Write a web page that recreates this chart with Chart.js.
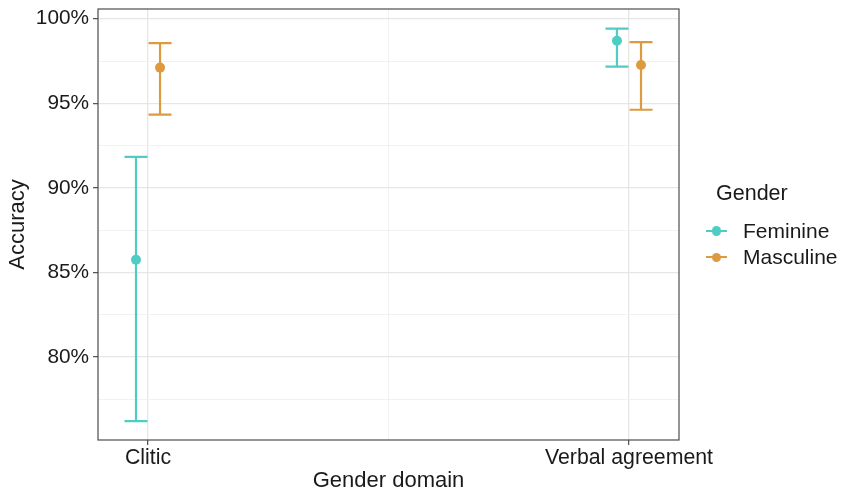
<!DOCTYPE html>
<html>
<head>
<meta charset="utf-8">
<script src="https://cdn.jsdelivr.net/npm/chart.js@4"></script>
<style>
  html, body { margin: 0; padding: 0; background: #fff; }
  #wrap { position: relative; width: 843px; height: 492px; font-family: "Liberation Sans", Arial, sans-serif; }
  #legend { position: absolute; left: 706px; top: 181px; color: #1a1a1a; font-size: 21px; }
  .legend-title { margin-left: 10px; line-height: 24px; height: 24px; margin-bottom: 12.5px; font-size: 21.5px; }
  .legend-item { display: flex; align-items: center; height: 26.5px; line-height: 24px; }
  .key { position: relative; width: 21px; height: 26px; margin-right: 16px; }
  .key::before { content: ''; position: absolute; left: 0; right: 0; top: 12px; height: 2px; background: var(--c); }
  .key::after { content: ''; position: absolute; left: 5.5px; top: 8.5px; width: 9.5px; height: 9.5px; border-radius: 50%; background: var(--c); }
</style>
</head>
<body>
<div id="wrap">
  <canvas id="chart" width="843" height="492"></canvas>
  <div id="legend"></div>
</div>
<script>
const categories = ['Clitic', 'Verbal agreement'];
const seriesNames = ['Feminine', 'Masculine'];
const seriesColors = ['#4ECDC4', '#DE9A3F'];

const feminineMean = [85.75, 98.70];
const feminineLow = [76.22, 97.17];
const feminineHigh = [91.84, 99.41];

const masculineMean = [97.11, 97.26];
const masculineLow = [94.33, 94.62];
const masculineHigh = [98.56, 98.62];

const yTicks = [80, 85, 90, 95, 100];
const yMinorTicks = [77.5, 82.5, 87.5, 92.5, 97.5];
const xMinorTicks = [1.5];

const DODGE = 0.025;
const CAP_HALF = 11.5;
const TEXT = '#1a1a1a';

Chart.defaults.font.family = '"Liberation Sans", Arial, sans-serif';

function toPoints(mean, low, high, shift) {
  return categories.map((c, i) => ({ x: i + 1 + shift, y: mean[i], low: low[i], high: high[i] }));
}

const isMinor = (v) => yMinorTicks.includes(v) || xMinorTicks.includes(v);

// panel border + error bars, drawn under the points
const panelAndErrorBars = {
  id: 'panelAndErrorBars',
  beforeDatasetsDraw(chart) {
    const { ctx, chartArea, scales: { x, y } } = chart;
    ctx.save();
    ctx.strokeStyle = '#4d4d4d';
    ctx.lineWidth = 1.2;
    ctx.strokeRect(chartArea.left, chartArea.top, chartArea.right - chartArea.left, chartArea.bottom - chartArea.top);
    chart.data.datasets.forEach((ds) => {
      ctx.strokeStyle = ds.borderColor;
      ctx.lineWidth = 2.2;
      ds.data.forEach((p) => {
        const px = x.getPixelForValue(p.x);
        const top = y.getPixelForValue(p.high);
        const bottom = y.getPixelForValue(p.low);
        ctx.beginPath();
        ctx.moveTo(px, top);
        ctx.lineTo(px, bottom);
        ctx.moveTo(px - CAP_HALF, top);
        ctx.lineTo(px + CAP_HALF, top);
        ctx.moveTo(px - CAP_HALF, bottom);
        ctx.lineTo(px + CAP_HALF, bottom);
        ctx.stroke();
      });
    });
    ctx.restore();
  },
};

const gridOptions = {
  color: (c) => (isMinor(c.tick.value) ? '#f1f1f1' : '#e6e6e6'),
  lineWidth: (c) => (isMinor(c.tick.value) ? 0.9 : 1.3),
  tickColor: (c) => (isMinor(c.tick.value) ? 'rgba(0,0,0,0)' : '#4d4d4d'),
  tickWidth: 1.2,
  tickLength: 5,
};

new Chart(document.getElementById('chart'), {
  type: 'scatter',
  data: {
    datasets: [
      {
        label: seriesNames[0],
        data: toPoints(feminineMean, feminineLow, feminineHigh, -DODGE),
        backgroundColor: seriesColors[0],
        borderColor: seriesColors[0],
        borderWidth: 0,
        pointRadius: 5,
        pointHoverRadius: 5,
      },
      {
        label: seriesNames[1],
        data: toPoints(masculineMean, masculineLow, masculineHigh, DODGE),
        backgroundColor: seriesColors[1],
        borderColor: seriesColors[1],
        borderWidth: 0,
        pointRadius: 5,
        pointHoverRadius: 5,
      },
    ],
  },
  options: {
    responsive: false,
    animation: false,
    layout: { padding: { left: 0, top: 9, right: 164, bottom: 0 } },
    plugins: { legend: { display: false }, tooltip: { enabled: false } },
    scales: {
      x: {
        type: 'linear',
        min: 0.896,
        max: 2.104,
        afterBuildTicks: (s) => {
          s.ticks = [1, ...xMinorTicks, 2].map((v) => ({ value: v }));
        },
        afterFit: (s) => {
          s.height = 52;
          s.paddingLeft = 0;
          s.paddingRight = 0;
        },
        ticks: {
          callback: (v) => (Number.isInteger(v) ? categories[v - 1] : ''),
          color: TEXT,
          font: { size: 21.3 },
          padding: 0,
          maxRotation: 0,
          autoSkip: false,
        },
        grid: gridOptions,
        border: { display: false },
        title: { display: true, text: 'Gender domain', color: TEXT, font: { size: 22, lineHeight: 1 }, padding: { top: 0, bottom: 0 } },
      },
      y: {
        min: 75.1,
        max: 100.575,
        afterBuildTicks: (s) => {
          s.ticks = [...yMinorTicks, ...yTicks].sort((a, b) => a - b).map((v) => ({ value: v }));
        },
        afterFit: (s) => {
          s.width = 98;
          s.paddingTop = 0;
          s.paddingBottom = 0;
        },
        ticks: {
          callback: (v) => (yTicks.includes(v) ? v + '%' : ''),
          color: TEXT,
          font: { size: 20.8 },
          padding: 4,
          autoSkip: false,
        },
        grid: gridOptions,
        border: { display: false },
        title: { display: true, text: 'Accuracy', color: TEXT, font: { size: 22, lineHeight: 1 }, padding: { top: 7, bottom: 0 } },
      },
    },
  },
  plugins: [panelAndErrorBars],
});

document.getElementById('legend').innerHTML = `
  <div class="legend-title">Gender</div>
  ${seriesNames.map((name, i) => `
    <div class="legend-item"><span class="key" style="--c:${seriesColors[i]}"></span>${name}</div>
  `).join('')}
`;
</script>
</body>
</html>
